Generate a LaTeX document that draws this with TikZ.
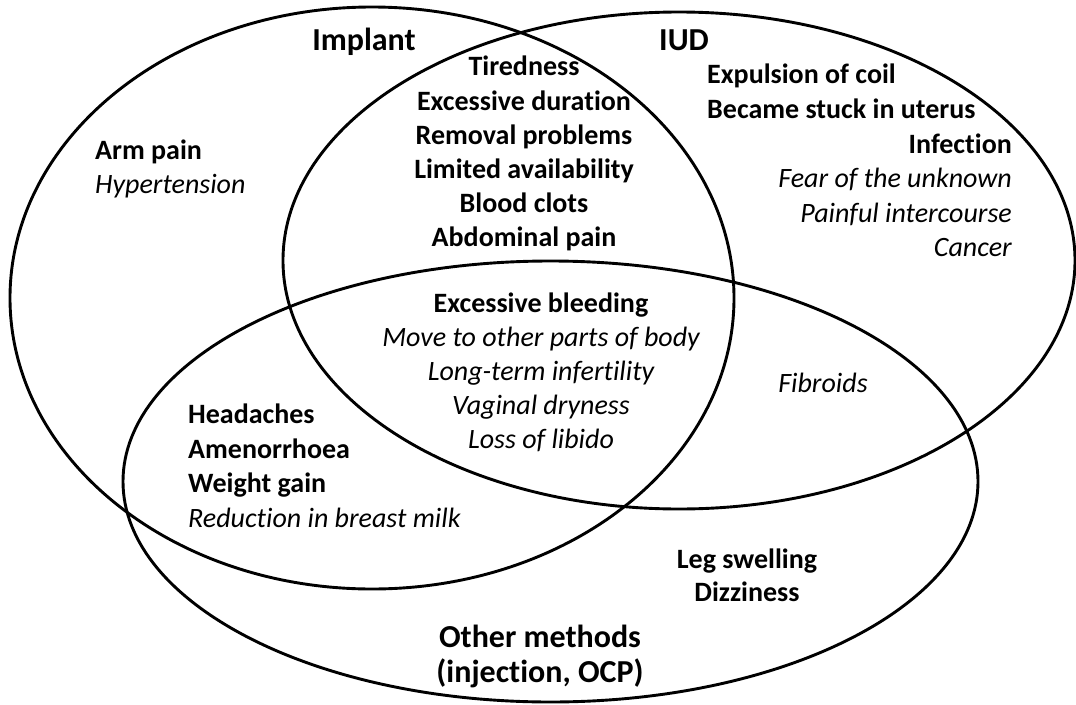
\documentclass[tikz,border=0pt]{standalone}
\usepackage{fontspec}
\setmainfont{Carlito}[Ligatures={NoCommon}]
\begin{document}
\begin{tikzpicture}[x=1pt,y=-1pt,
  ell/.style={line width=2.9pt},
  bl/.style={font=\fontsize{28}{34}\selectfont\bfseries, inner sep=0pt},
  itl/.style={font=\fontsize{28}{34}\selectfont\itshape, inner sep=0pt},
  lab/.style={font=\fontsize{32}{36}\selectfont\bfseries, inner sep=0pt}]
\useasboundingbox (0,0) rectangle (1076,704);
% ellipses
\draw[ell] (372,298) ellipse [x radius=362pt, y radius=291pt];
\draw[ell] (679,260.5) ellipse [x radius=396pt, y radius=248.5pt];
\draw[ell] (550.5,481.5) ellipse [x radius=427.5pt, y radius=220.5pt];
% set labels
\node[lab, anchor=base] (implant) at (364,50) {Implant};
\node[lab, anchor=base] (iud) at (684,50) {IUD};
\node[lab, anchor=base] (other1) at (540,647) {Other methods};
\node[lab, anchor=base] (other2) at (540,682) {(injection, OCP)};
% implant only
\node[bl, anchor=base west] (arm) at (95,159) {Arm pain};
\node[itl, anchor=base west] (hyper) at (95,193) {Hypertension};
% implant and IUD
\node[bl, anchor=base] (tired) at (524,75) {Tiredness};
\node[bl, anchor=base] (exdur) at (524,110) {Excessive duration};
\node[bl, anchor=base] (remov) at (524,144) {Removal problems};
\node[bl, anchor=base] (limit) at (524,178) {Limited availability};
\node[bl, anchor=base] (blood) at (524,212) {Blood clots};
\node[bl, anchor=base] (abdom) at (524,246) {Abdominal pain};
% IUD only
\node[bl, anchor=base west] (expul) at (707,83) {Expulsion of coil};
\node[bl, anchor=base west] (stuck) at (707,118) {Became stuck in uterus};
\node[bl, anchor=base east] (infec) at (1012,153) {Infection};
\node[itl, anchor=base east] (fear) at (1012,187) {Fear of the unknown};
\node[itl, anchor=base east] (painf) at (1012,222) {Painful intercourse};
\node[itl, anchor=base east] (cancer) at (1012,256) {Cancer};
% all three
\node[bl, anchor=base] (exble) at (541,312) {Excessive bleeding};
\node[itl, anchor=base] (move) at (541,346) {Move to other parts of body};
\node[itl, anchor=base] (longt) at (541,380) {Long-term infertility};
\node[itl, anchor=base] (vagin) at (541,414) {Vaginal dryness};
\node[itl, anchor=base] (libido) at (541,448) {Loss of libido};
% implant and other
\node[bl, anchor=base west] (head) at (188,423) {Headaches};
\node[bl, anchor=base west] (amen) at (188,458) {Amenorrhoea};
\node[bl, anchor=base west] (weight) at (188,492) {Weight gain};
\node[itl, anchor=base west] (milk) at (188,527) {Reduction in breast milk};
% IUD and other
\node[itl, anchor=base] (fibro) at (823,392) {Fibroids};
% other only
\node[bl, anchor=base] (leg) at (747,568) {Leg swelling};
\node[bl, anchor=base] (dizzy) at (747,601) {Dizziness};
\end{tikzpicture}
\end{document}
